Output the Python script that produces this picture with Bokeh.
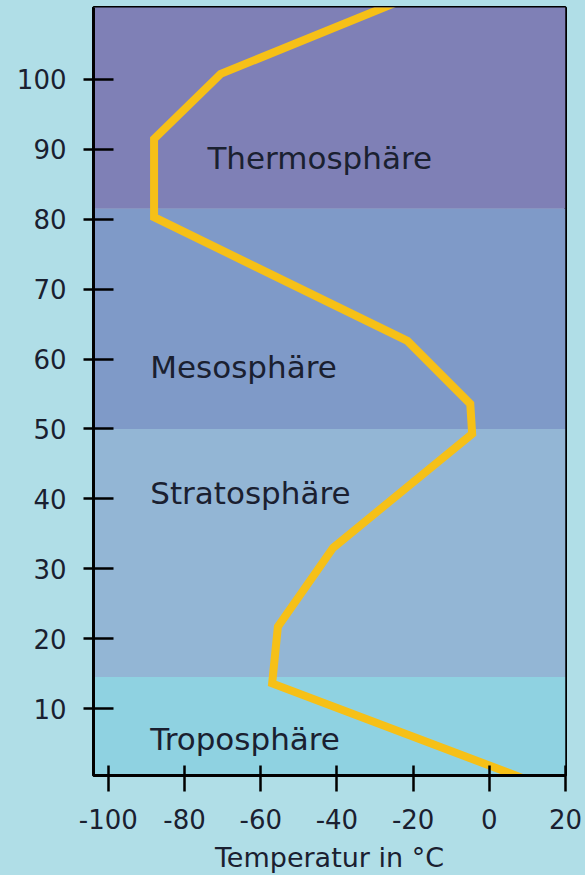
from bokeh.plotting import figure
from bokeh.models import Range1d, FixedTicker, ColumnDataSource, GlobalInlineStyleSheet
from bokeh.core.properties import value
from bokeh.embed import file_html
from bokeh.resources import INLINE

# ---- data ----
altitude_km = [0, 13.6, 21.7, 33, 49.3, 53.6, 62.6, 80.3, 91.5, 100.8, 112]
temperature_c = [9, -57, -55.5, -41, -4.5, -5, -21.5, -88, -88, -70.5, -20]

layer_names = ["Troposphäre", "Stratosphäre", "Mesosphäre", "Thermosphäre"]
layer_bottom = [0, 14.5, 50, 81.5]
layer_top = [14.5, 50, 81.5, 112]
layer_colors = ["#8fd2e1", "#93b6d5", "#7f9ac8", "#7f80b6"]
label_temp = [-89, -89, -89, -74]
label_alt = [5.7, 40.8, 58.8, 88.7]

x_ticks = [-100, -80, -60, -40, -20, 0, 20]
y_ticks = [10, 20, 30, 40, 50, 60, 70, 80, 90, 100]

X_START, X_END = -103.9, 20
Y_START, Y_END = 0.42, 110.3

BG = "#b0dee7"
INK = "#1a2030"
FONT = "DejaVu Sans"

p = figure(width=585, height=875, output_backend="svg", toolbar_location=None,
           x_range=Range1d(X_START, X_END), y_range=Range1d(Y_START, Y_END),
           min_border_left=93, min_border_right=20, min_border_top=7, min_border_bottom=100)
p.stylesheets = [GlobalInlineStyleSheet(css=f"html,body{{margin:0;padding:0;background:{BG};overflow:hidden;}}")]

p.background_fill_color = BG
p.border_fill_color = BG
p.outline_line_color = "black"
p.outline_line_width = 3
p.grid.visible = False

bands = ColumnDataSource(dict(bottom=layer_bottom, top=layer_top, color=layer_colors,
                              left=[X_START] * len(layer_bottom), right=[X_END] * len(layer_bottom)))
p.quad(left="left", right="right", bottom="bottom", top="top", fill_color="color",
       line_color=None, source=bands)

p.line(temperature_c, altitude_km, line_color="#f6c017", line_width=8, line_join="miter")

labels = ColumnDataSource(dict(x=label_temp, y=label_alt, t=layer_names))
p.text(x="x", y="y", text="t", source=labels, text_font=value(FONT), text_font_size="31px",
       text_align="left", text_baseline="middle", text_color=INK)

for ax in (p.xaxis[0], p.yaxis[0]):
    ax.axis_line_color = "black"
    ax.axis_line_width = 3
    ax.major_tick_line_color = "black"
    ax.major_tick_line_width = 2.5
    ax.minor_tick_line_color = None
    ax.major_label_text_font = FONT
    ax.major_label_text_font_size = "26px"
    ax.major_label_text_color = INK

p.xaxis.ticker = FixedTicker(ticks=x_ticks)
p.yaxis.ticker = FixedTicker(ticks=y_ticks)
p.xaxis.major_label_overrides = {t: str(t) for t in x_ticks}
p.xaxis.major_tick_in = 10
p.xaxis.major_tick_out = 16
p.xaxis.major_label_standoff = 17
p.yaxis.major_tick_in = 20
p.yaxis.major_tick_out = 10
p.yaxis.major_label_standoff = 17

p.xaxis.axis_label = "Temperatur in °C"
p.xaxis.axis_label_text_font = FONT
p.xaxis.axis_label_text_font_size = "27px"
p.xaxis.axis_label_text_font_style = "normal"
p.xaxis.axis_label_text_color = INK
p.xaxis.axis_label_standoff = 10

open("out.html", "w").write(file_html(p, INLINE))
